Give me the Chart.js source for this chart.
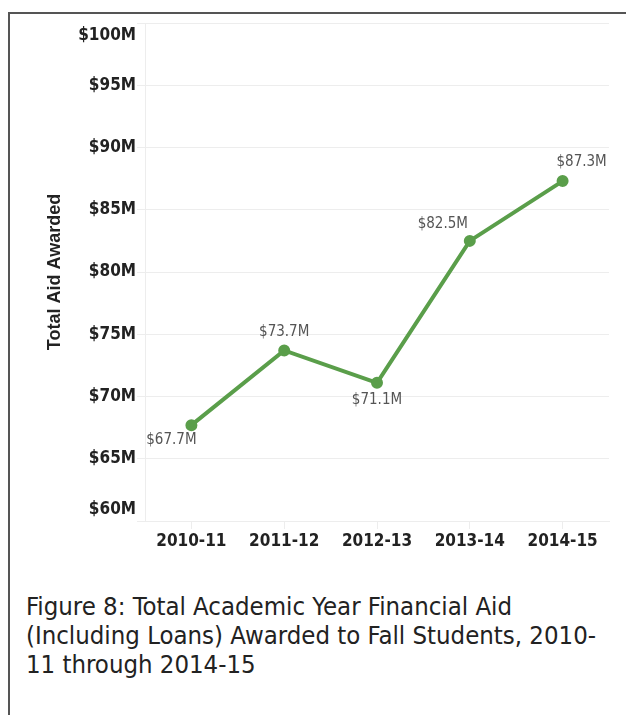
<!DOCTYPE html>
<html>
<head>
<meta charset="utf-8">
<script src="https://cdn.jsdelivr.net/npm/chart.js@4.4.1/dist/chart.umd.min.js"></script>
<style>
  html, body { margin: 0; padding: 0; background: #fff; width: 626px; height: 715px; overflow: hidden; }
  #frame { position: absolute; left: 8px; top: 12px; width: 700px; height: 760px;
           border-left: 2px solid #555; border-top: 2px solid #555; }
  #plot { position: absolute; left: 0; top: 0; }
  #caption { position: absolute; left: 26px; top: 592px; margin: 0;
             font-family: 'DejaVu Sans Condensed', 'Liberation Sans', sans-serif;
             font-size: 25.5px; line-height: 29px; color: #222; white-space: nowrap; }
</style>
</head>
<body>
<div id="frame"></div>
<canvas id="plot" width="626" height="560"></canvas>
<p id="caption">Figure 8: Total Academic Year Financial Aid<br>(Including Loans) Awarded to Fall Students, 2010-<br>11 through 2014-15</p>
<script>
// Academic years on the x axis
const categories = ['2010-11', '2011-12', '2012-13', '2013-14', '2014-15'];
// Total aid awarded, in millions of dollars
const aidMillions = [67.7, 73.7, 71.1, 82.5, 87.3];
// Value axis range and step, in millions
const yMin = 60;
const yMax = 100;
const yStep = 5;

const lineGreen = '#5a9e4a';
const gridGrey = '#ededed';
const condensed = "'DejaVu Sans Condensed', sans-serif";
const axisText = '#222';

const money = v => '$' + v + 'M';

// Where each value label sits relative to its point (pixels)
const labelOffsets = [[-20, 15], [0, -18], [0, 17], [-27, -17], [19, -19]];

const valueLabels = {
  id: 'valueLabels',
  afterDatasetsDraw(chart) {
    const ctx = chart.ctx;
    const meta = chart.getDatasetMeta(0);
    ctx.save();
    ctx.font = '15px ' + condensed;
    ctx.fillStyle = '#555';
    ctx.textAlign = 'center';
    ctx.textBaseline = 'middle';
    meta.data.forEach((pt, i) => {
      const [dx, dy] = labelOffsets[i];
      ctx.fillText('$' + aidMillions[i].toFixed(1) + 'M', pt.x + dx, pt.y + dy);
    });
    ctx.restore();
  }
};

// Value-axis labels, kept inside the plot's height so the end labels
// tuck in under/over the outermost gridlines.
const insetYLabels = {
  id: 'insetYLabels',
  afterDraw(chart) {
    const y = chart.scales.y;
    const area = chart.chartArea;
    const ctx = chart.ctx;
    ctx.save();
    ctx.font = 'bold 17px ' + condensed;
    ctx.fillStyle = axisText;
    ctx.textAlign = 'right';
    ctx.textBaseline = 'middle';
    y.ticks.forEach((t, i) => {
      const py = y.getPixelForTick(i);
      const cy = Math.min(Math.max(py, area.top + 13), area.bottom - 11);
      ctx.fillText(money(t.value), y.right - 9, cy);
    });
    ctx.restore();
  }
};

new Chart(document.getElementById('plot'), {
  type: 'line',
  data: {
    labels: categories,
    datasets: [{
      data: aidMillions,
      borderColor: lineGreen,
      backgroundColor: lineGreen,
      borderWidth: 4,
      pointRadius: 4,
      pointHoverRadius: 4,
      tension: 0
    }]
  },
  options: {
    responsive: false,
    animation: false,
    devicePixelRatio: 1,
    layout: { padding: { top: 23, right: 17, left: 0, bottom: 0 } },
    plugins: { legend: { display: false }, tooltip: { enabled: false } },
    scales: {
      x: {
        offset: true,
        grid: { drawOnChartArea: false, drawTicks: true, tickLength: 8, color: gridGrey },
        border: { display: true, color: gridGrey },
        ticks: { font: { family: condensed, size: 17, weight: 'bold' }, color: axisText, padding: 2, maxRotation: 0 },
        afterFit(scale) { scale.height = 39; }
      },
      y: {
        min: yMin,
        max: yMax,
        grid: { color: gridGrey, tickLength: 8 },
        border: { display: true, color: gridGrey },
        ticks: {
          stepSize: yStep,
          font: { family: condensed, size: 17, weight: 'bold' },
          color: 'rgba(0,0,0,0)',
          padding: 1,
          callback: v => money(v)
        },
        title: {
          display: true,
          text: 'Total Aid Awarded',
          font: { family: "'Liberation Sans', Arial, sans-serif", size: 18, weight: 'bold' },
          color: axisText,
          padding: { top: 44, bottom: 0 }
        },
        afterFit(scale) { scale.width = 145; }
      }
    }
  },
  plugins: [valueLabels, insetYLabels]
});
</script>
</body>
</html>
